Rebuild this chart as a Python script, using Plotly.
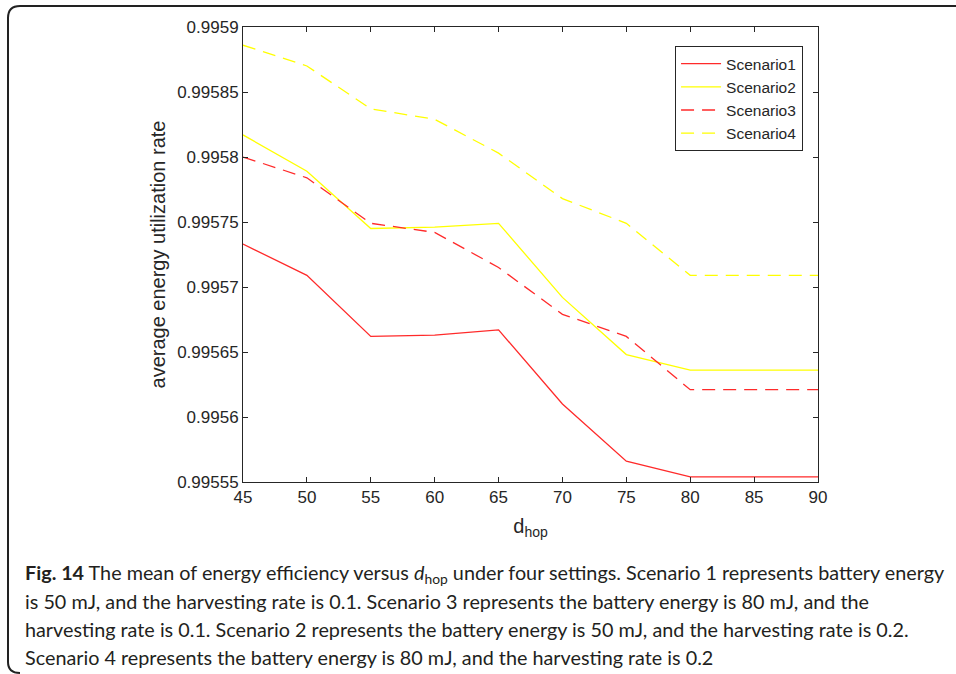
import plotly.graph_objects as go

d_hop = [45, 50, 55, 60, 65, 70, 75, 80, 85, 90]
scenario1 = [0.995733, 0.995709, 0.995662, 0.995663, 0.995667, 0.995610, 0.995566, 0.995554, 0.995554, 0.995554]
scenario2 = [0.995817, 0.995789, 0.995745, 0.995746, 0.995749, 0.995692, 0.995648, 0.995636, 0.995636, 0.995636]
scenario3 = [0.995800, 0.995784, 0.995749, 0.995742, 0.995715, 0.995679, 0.995662, 0.995621, 0.995621, 0.995621]
scenario4 = [0.995886, 0.995870, 0.995837, 0.995829, 0.995803, 0.995768, 0.995749, 0.995709, 0.995709, 0.995709]
names = ["Scenario1", "Scenario2", "Scenario3", "Scenario4"]
y_ticks = [0.99555, 0.9956, 0.99565, 0.9957, 0.99575, 0.9958, 0.99585, 0.9959]
y_tick_labels = ["0.99555", "0.9956", "0.99565", "0.9957", "0.99575", "0.9958", "0.99585", "0.9959"]
x_ticks = [45, 50, 55, 60, 65, 70, 75, 80, 85, 90]
caption_lines = [
    "<b>Fig. 14</b> The mean of energy efficiency versus <i>d</i><sub>hop</sub> under four settings. Scenario 1 represents battery energy",
    "is 50 mJ, and the harvesting rate is 0.1. Scenario 3 represents the battery energy is 80 mJ, and the",
    "harvesting rate is 0.1. Scenario 2 represents the battery energy is 50 mJ, and the harvesting rate is 0.2.",
    "Scenario 4 represents the battery energy is 80 mJ, and the harvesting rate is 0.2",
]

W, H = 956, 674
L, R, T, B = 243, 818, 27, 482

fig = go.Figure()
series = [scenario1, scenario2, scenario3, scenario4]
colors = ["#ff2a2a", "#ffff00", "#ff2a2a", "#ffff00"]
dashes = ["solid", "solid", "13px,8px", "13px,8px"]
for nm, s, c, dsh in zip(names, series, colors, dashes):
    fig.add_trace(go.Scatter(x=d_hop, y=s, mode="lines", name=nm,
                             line=dict(color=c, width=1.3, dash=dsh)))

def px2paper(px, py):
    return (px - L) / (R - L), (B - py) / (B - T)

x0, y0 = px2paper(960, 6)
x1, y1 = px2paper(20, 6)
xc, yc = px2paper(8, 6)
x2, y2 = px2paper(8, 18)
x3, y3 = px2paper(8, 662)
xc2, yc2 = px2paper(8, 673)
x4, y4 = px2paper(20, 673)
path = (f"M {x0},{y0} L {x1},{y1} Q {xc},{yc} {x2},{y2} L {x3},{y3} "
        f"Q {xc2},{yc2} {x4},{y4}")
fig.add_shape(type="path", path=path, xref="paper", yref="paper",
              line=dict(color="#222222", width=2))

caption_font = "Lato, Liberation Sans Narrow, sans-serif"
for i, line in enumerate(caption_lines):
    cy = 573 + 28 * i
    px_, py_ = px2paper(23, cy)
    fig.add_annotation(text=line, x=px_, y=py_, xref="paper", yref="paper",
                       xanchor="left", yanchor="middle", showarrow=False,
                       font=dict(family=caption_font, size=19.8, color="#231f20"))

axis_common = dict(showline=True, linecolor="#262626", linewidth=1, mirror="ticks",
                   ticks="inside", ticklen=5, tickcolor="#262626", showgrid=False,
                   zeroline=False,
                   tickfont=dict(family="Liberation Sans, Arial, sans-serif", size=17, color="#262626"))

fig.update_layout(
    width=W, height=H,
    margin=dict(l=L, r=W - R, t=T, b=H - B),
    paper_bgcolor="white", plot_bgcolor="white",
    xaxis=dict(range=[45, 90], tickvals=x_ticks, **axis_common,
               title=dict(text="d<sub>hop</sub>", standoff=12,
                          font=dict(family="Liberation Sans, Arial, sans-serif", size=20, color="#262626"))),
    yaxis=dict(range=[0.99555, 0.9959], tickvals=y_ticks, ticktext=y_tick_labels, **axis_common,
               title=dict(text="average energy utilization rate", standoff=6,
                          font=dict(family="Liberation Sans, Arial, sans-serif", size=20, color="#262626"))),
    legend=dict(x=0.974, y=0.958, xanchor="right", yanchor="top",
                bgcolor="white", bordercolor="#262626", borderwidth=1,
                font=dict(family="Liberation Sans, Arial, sans-serif", size=15.5, color="#262626"),
                tracegroupgap=0, itemwidth=40),
    showlegend=True,
)

fig.write_html("out.html", config={"displayModeBar": False},
               post_script="document.body.style.margin='0px';")
